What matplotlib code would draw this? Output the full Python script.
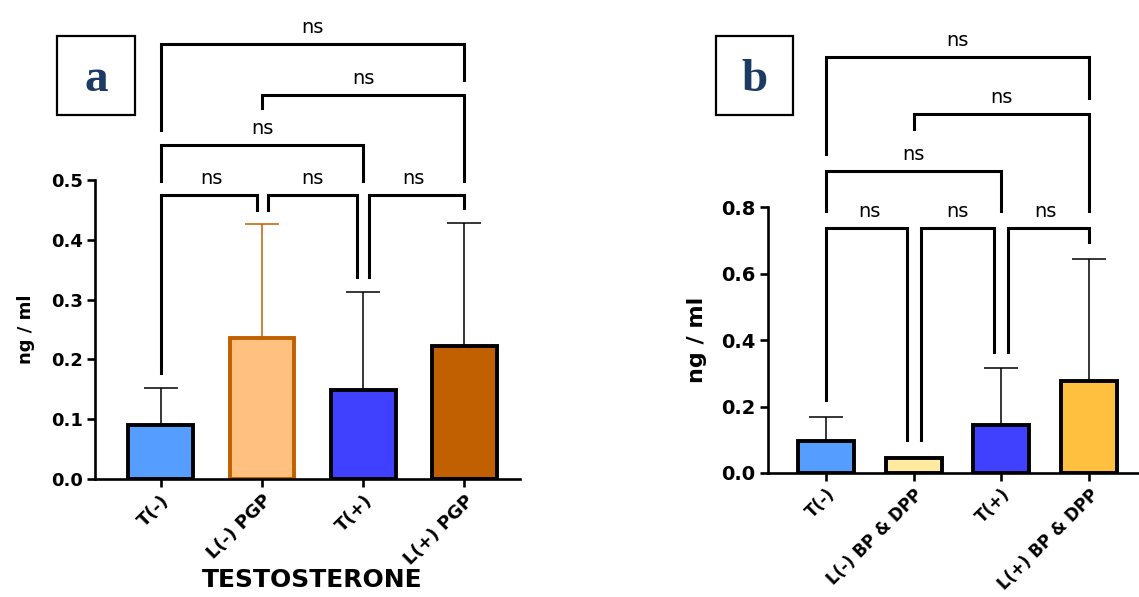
import numpy as np
import matplotlib
matplotlib.use("Agg")
import matplotlib.pyplot as plt
from matplotlib.patches import Rectangle

W, H = 1139, 597

# panel a data
labels_a = ["T(-)", "L(-) PGP", "T(+)", "L(+) PGP"]
mean_a = [0.090, 0.235, 0.148, 0.222]
sd_a = [0.063, 0.192, 0.165, 0.206]
fill_a = ["#559EFF", "#FFC080", "#4040FF", "#C06000"]
edge_a = ["black", "#C06000", "black", "black"]

# panel b data
labels_b = ["T(-)", "L(-) BP & DPP", "T(+)", "L(+) BP & DPP"]
mean_b = [0.097, 0.045, 0.143, 0.278]
sd_b = [0.071, 0.0, 0.172, 0.365]
fill_b = ["#559EFF", "#FFEA9F", "#4040FF", "#FFC040"]
edge_b = ["black", "black", "black", "black"]

# significance brackets: (i, j, top, left end, right end, dx left, dx right)
sig_a = [
    (0, 1, 0.475, 0.178, 0.450, 0.0, -0.05),
    (1, 2, 0.475, 0.450, 0.338, 0.06, -0.06),
    (2, 3, 0.475, 0.338, 0.453, 0.06, 0.0),
    (0, 2, 0.558, 0.498, 0.498, 0.0, 0.0),
    (1, 3, 0.642, 0.620, 0.498, 0.0, 0.0),
    (0, 3, 0.727, 0.583, 0.667, 0.0, 0.0),
]
sig_b = [
    (0, 1, 0.737, 0.220, 0.100, 0.0, -0.07),
    (1, 2, 0.737, 0.100, 0.363, 0.08, -0.08),
    (2, 3, 0.737, 0.363, 0.694, 0.08, 0.0),
    (0, 2, 0.908, 0.788, 0.788, 0.0, 0.0),
    (1, 3, 1.080, 1.035, 0.788, 0.0, 0.0),
    (0, 3, 1.250, 0.960, 1.128, 0.0, 0.0),
]


def px_axes(fig, x0, x1, y_top, y_bot):
    return fig.add_axes([x0 / W, (H - y_bot) / H, (x1 - x0) / W, (y_bot - y_top) / H])


def panel(ax, labels, means, sds, fills, edges, sig, ymax, ystep, xlim, tick_size, xtick_size):
    x = np.arange(len(labels))
    for i in x:
        ax.errorbar(i, means[i], yerr=[[0], [sds[i]]], fmt="none", ecolor=edges[i],
                    elinewidth=1.1, capsize=12, capthick=1.1, zorder=1, clip_on=False)
    ax.bar(x, means, width=0.64, color=fills, edgecolor=edges, linewidth=2.8, zorder=2)
    ax.set_xlim(*xlim)
    ax.set_ylim(0, ymax)
    ax.set_yticks(np.arange(0, ymax + 1e-9, ystep))
    ax.set_yticklabels([f"{v:.1f}" for v in np.arange(0, ymax + 1e-9, ystep)],
                       fontweight="bold", fontsize=tick_size)
    ax.set_xticks(x)
    ax.set_xticklabels(labels, rotation=45, ha="right", rotation_mode="anchor",
                       fontweight="bold", fontsize=xtick_size)
    for s in ["top", "right"]:
        ax.spines[s].set_visible(False)
    for s in ["left", "bottom"]:
        ax.spines[s].set_linewidth(1.9)
    ax.tick_params(width=1.9, length=6, pad=3)
    for i, j, top, yl, yr, dl, dr in sig:
        xl, xr = x[i] + dl, x[j] + dr
        ax.plot([xl, xl, xr, xr], [yl, top, top, yr], color="black", lw=2.2,
                clip_on=False, solid_joinstyle="miter", zorder=3)
        ax.annotate("ns", ((x[i] + x[j]) / 2, top), xytext=(0, 5),
                    textcoords="offset points", ha="center", va="bottom",
                    fontsize=14, annotation_clip=False)


fig = plt.figure(figsize=(W / 100, H / 100), dpi=100)

ax_a = px_axes(fig, 95, 520, 180, 479)
panel(ax_a, labels_a, mean_a, sd_a, fill_a, edge_a, sig_a, 0.5, 0.1, (-0.65, 3.55), 13, 13)
ax_a.set_ylabel("ng / ml", fontweight="bold", fontsize=13)
ax_a.yaxis.set_label_coords(-0.14, 0.5)

ax_b = px_axes(fig, 768, 1139, 207, 473)
panel(ax_b, labels_b, mean_b, sd_b, fill_b, edge_b, sig_b, 0.8, 0.2, (-0.66, 3.57), 14, 12)
ax_b.set_ylabel("ng / ml", fontweight="bold", fontsize=16)
ax_b.yaxis.set_label_coords(-0.165, 0.5)

fig.text(312 / W, (H - 580) / H, "TESTOSTERONE", ha="center", va="center",
         fontweight="bold", fontsize=18)

# panel letters
for x0, x1, letter in [(57, 135, "a"), (716, 793, "b")]:
    fig.patches.append(Rectangle((x0 / W, (H - 115) / H), (x1 - x0) / W, 79 / H,
                                 transform=fig.transFigure, fill=False,
                                 edgecolor="black", linewidth=1.6))
    fig.text((x0 + x1) / 2 / W, (H - 80) / H, letter, ha="center", va="center",
             family="Liberation Serif", fontweight="bold", fontsize=34, color="#1B3A64")

fig.savefig("out.png", dpi=100)
